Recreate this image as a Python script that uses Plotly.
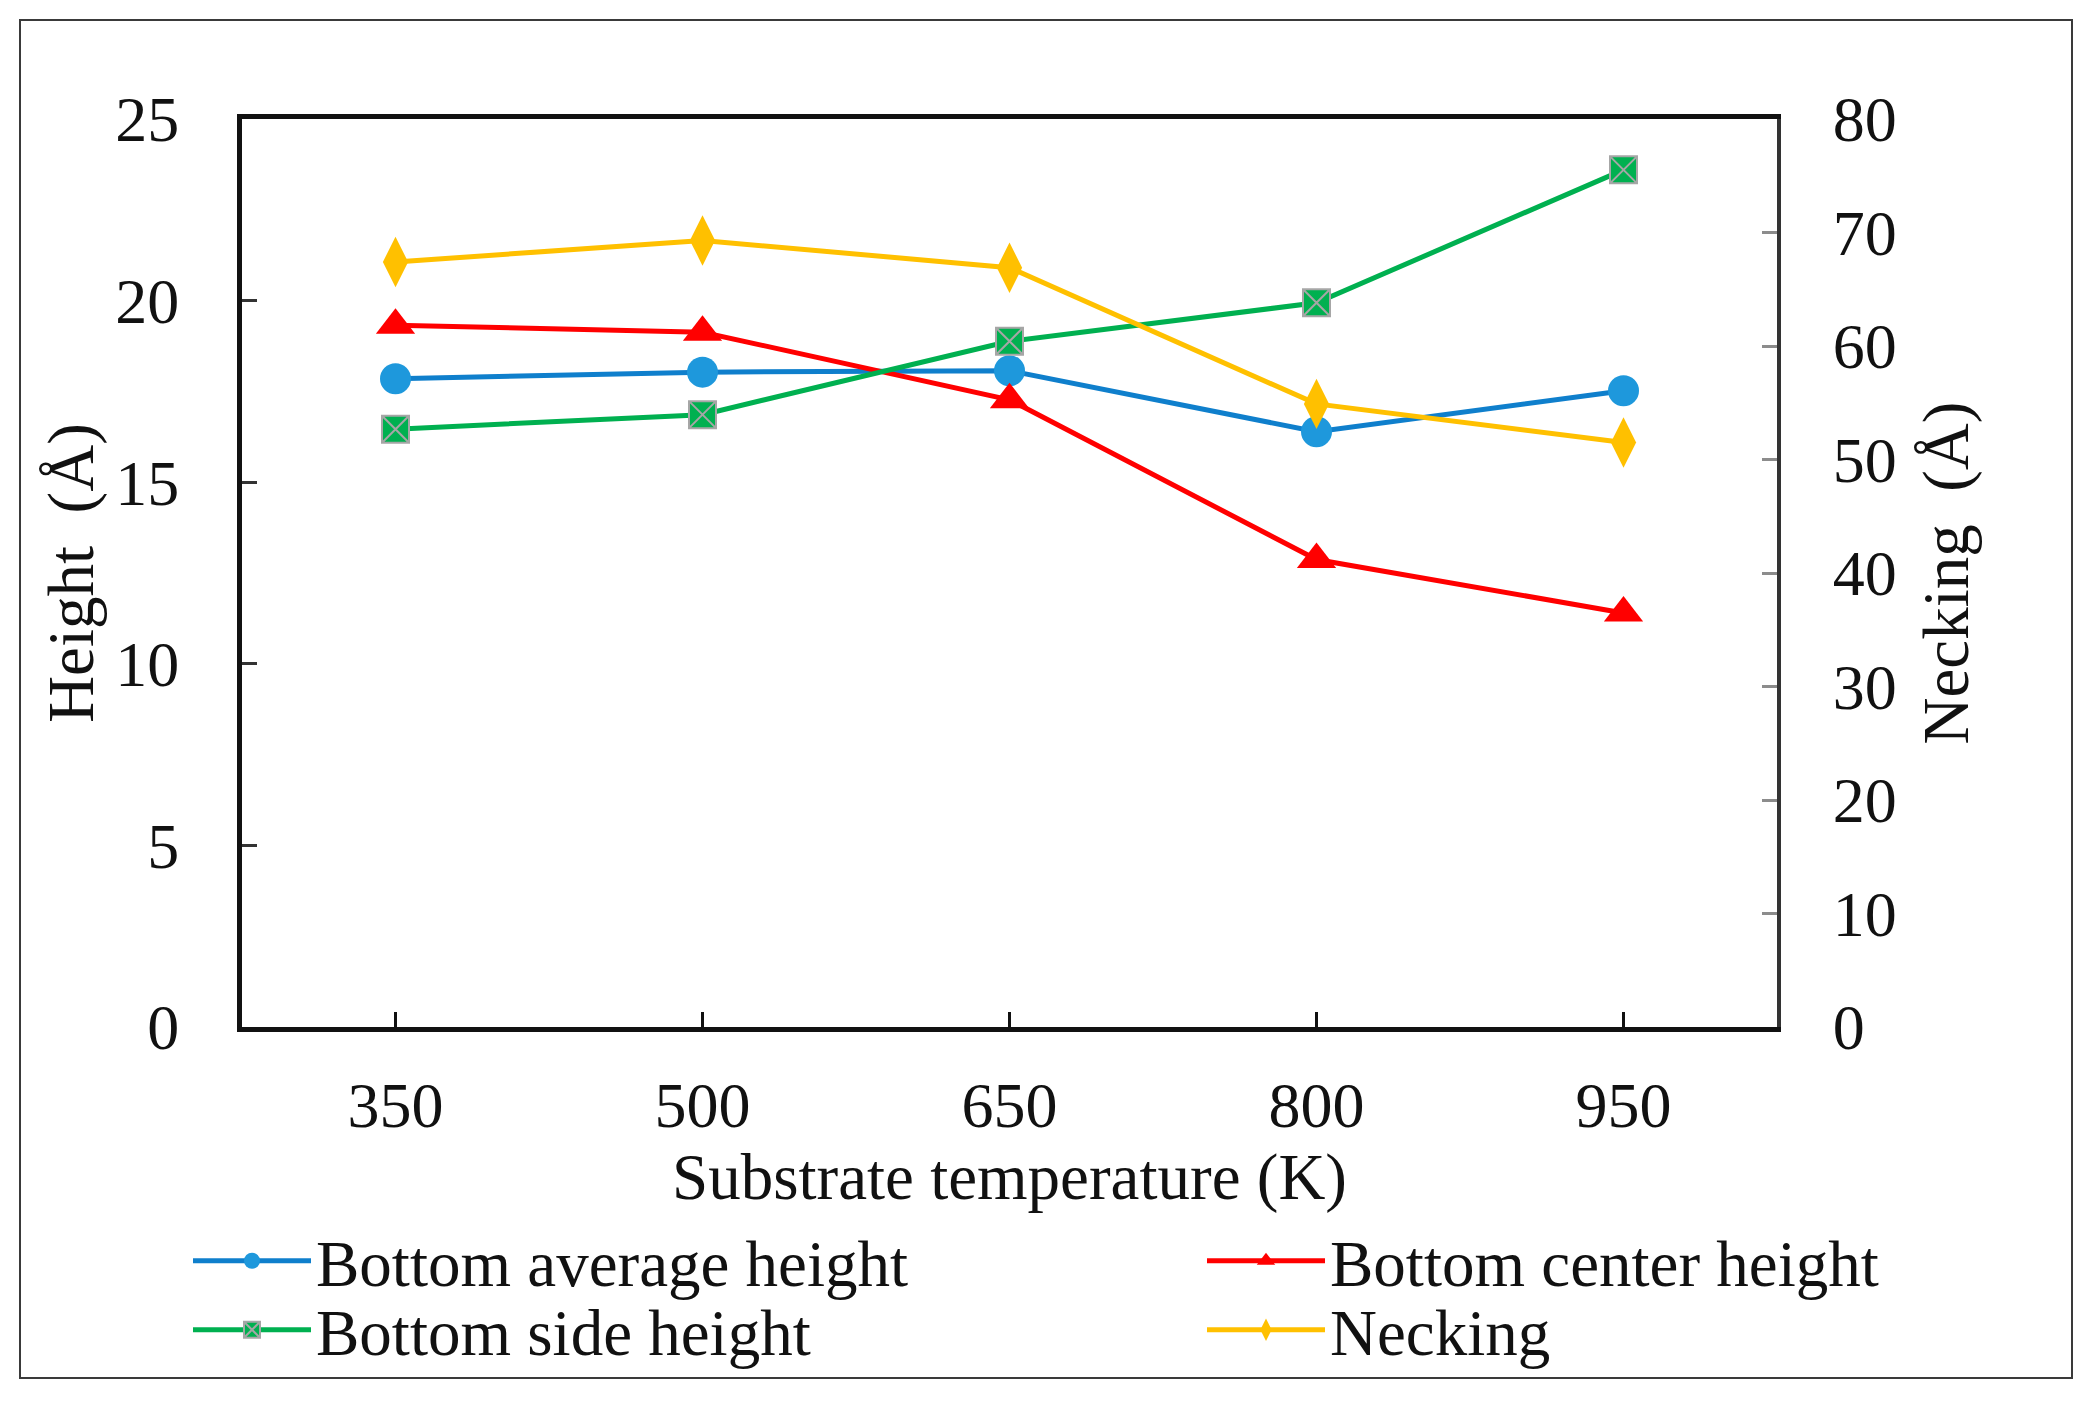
import plotly.graph_objects as go

temperature = [350, 500, 650, 800, 950]
bottom_average = [17.85, 18.03, 18.07, 16.39, 17.52]
bottom_center = [19.32, 19.13, 17.27, 12.87, 11.40]
bottom_side = [16.46, 16.86, 18.88, 19.94, 23.60]
necking = [67.4, 69.3, 66.9, 54.9, 51.5]

x_ticks = [350, 500, 650, 800, 950]
y_ticks = [0, 5, 10, 15, 20, 25]
y2_ticks = [0, 10, 20, 30, 40, 50, 60, 70, 80]

FONT = "Liberation Serif"
OFF = 8  # browser body margin
W, H = 2092 - OFF, 1402 - OFF
L, T = 242 - OFF, 119 - OFF
right_px, bottom_px = 1777 - OFF, 1027 - OFF
R, B = W - right_px, H - bottom_px
pw = right_px - L
ph = bottom_px - T


def px_x(x):
    # x in page pixels
    return (x - OFF - L) / pw


def px_y(y):
    return (bottom_px - (y - OFF)) / ph


fig = go.Figure()
fig.add_trace(go.Scatter(
    x=temperature, y=bottom_average, name="Bottom average height", legend="legend",
    mode="lines+markers", line=dict(color="#0f7fcc", width=5),
    marker=dict(symbol="circle", size=31, color="#1e98dc")))
fig.add_trace(go.Scatter(
    x=temperature, y=bottom_center, name="Bottom center height", legend="legend2",
    mode="lines+markers", line=dict(color="#ff0000", width=5),
    marker=dict(symbol="triangle-up", size=34, color="#ff0000")))
fig.add_trace(go.Scatter(
    x=temperature, y=bottom_side, name="Bottom side height", legend="legend3",
    mode="lines+markers", line=dict(color="#00b050", width=5),
    marker=dict(symbol="square-x", size=27, color="#00b050",
                line=dict(color="#a6a6a6", width=2))))
fig.add_trace(go.Scatter(
    x=temperature, y=necking, name="Necking", yaxis="y2", legend="legend4",
    mode="lines+markers", line=dict(color="#ffc000", width=5),
    marker=dict(symbol="diamond-tall", size=36, color="#ffc000")))

legend_font = dict(family=FONT, size=65, color="#111111")


def legend_at(xp, yp):
    return dict(x=px_x(xp), xanchor="left", y=px_y(yp), yanchor="middle",
                font=legend_font, bgcolor="rgba(0,0,0,0)", borderwidth=0,
                itemwidth=118)


fig.update_layout(
    width=W, height=H,
    margin=dict(l=L, r=R, t=T, b=B),
    paper_bgcolor="white", plot_bgcolor="white",
    font=dict(family=FONT, size=64, color="#111111"),
    showlegend=True,
    legend=legend_at(188, 1261),
    legend2=legend_at(1202, 1261),
    legend3=legend_at(188, 1330),
    legend4=legend_at(1202, 1330),
    xaxis=dict(
        range=[275, 1025], tickvals=x_ticks, ticktext=[str(v) for v in x_ticks],
        showline=True, linecolor="#111111", linewidth=5, mirror=True,
        ticks="inside", ticklen=15, tickwidth=3, tickcolor="#111111",
        ticklabelstandoff=18, showgrid=False, zeroline=False,
        tickfont=dict(family=FONT, size=64, color="#111111"),
        title=dict(text="Substrate temperature (K)", standoff=0,
                   font=dict(family=FONT, size=65, color="#111111"))),
    yaxis=dict(
        range=[0, 25], tickvals=y_ticks,
        showline=True, linecolor="#111111", linewidth=5,
        ticks="inside", ticklen=15, tickwidth=3, tickcolor="#333333",
        ticklabelstandoff=45, showgrid=False, zeroline=False,
        tickfont=dict(family=FONT, size=64, color="#111111"),
        title=dict(text="Height\u00a0\u00a0(Å)", standoff=2,
                   font=dict(family=FONT, size=65, color="#111111"))),
    yaxis2=dict(
        range=[0, 80], tickvals=y2_ticks, overlaying="y", side="right",
        showline=True, linecolor="#333333", linewidth=4,
        ticks="inside", ticklen=15, tickwidth=3, tickcolor="#8c8c8c",
        ticklabelstandoff=39, showgrid=False, zeroline=False,
        tickfont=dict(family=FONT, size=64, color="#111111"),
        title=dict(text="Necking\u00a0\u00a0(Å)", standoff=28,
                   font=dict(family=FONT, size=65, color="#111111"))),
    shapes=[dict(
        type="rect", xref="paper", yref="paper",
        x0=px_x(20), x1=px_x(2072),
        y0=px_y(1378), y1=px_y(20),
        line=dict(color="#3a3a3a", width=2), fillcolor="rgba(0,0,0,0)",
        layer="below")],
)

fig.write_html("out.html")
